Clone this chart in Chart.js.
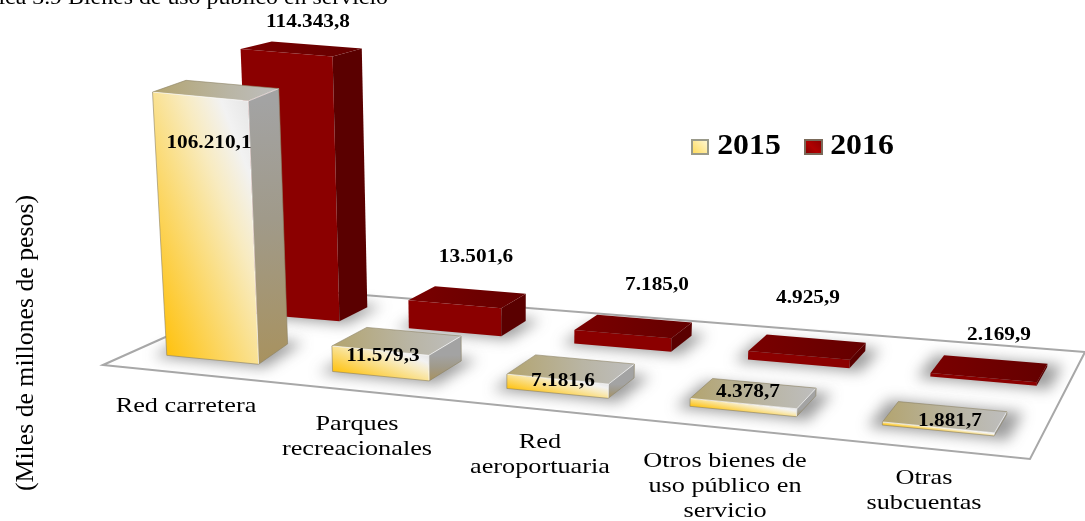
<!DOCTYPE html>
<html><head><meta charset="utf-8">
<style>html,body{margin:0;padding:0;background:#fff}canvas{display:block}</style>
<script src="https://cdn.jsdelivr.net/npm/chart.js@4"></script>
</head><body><canvas id="c" width="1085" height="521"></canvas>
<script>
const categories = [["Red carretera"],["Parques","recreacionales"],["Red","aeroportuaria"],["Otros bienes de","uso público en","servicio"],["Otras","subcuentas"]];
const seriesNames = ["2015","2016"];
const values2015 = [106210.1,11579.3,7181.6,4378.7,1881.7];
const values2016 = [114343.8,13501.6,7185.0,4925.9,2169.9];
const titleText = "Gráfica 3.9 Bienes de uso público en servicio";
const axisTitle = "(Miles de millones de pesos)";

// Camera: four corners of the floor and vanishing point of the verticals
const floor = [[103,365],[1030,459],[1085,352],[275,288]];
const vanish = [500,6500];
const depthBand = [[0.15,0.375],[0.665,0.855]];
const depthDrift = [[0,-0.01],[-0.011,-0.011]];
const SERIF = '"Liberation Serif","Times New Roman",serif';
// Text anchors
const valueAnchors = [[[209,143],[383,356],[563,381],[748,392],[950,421]],[[308,22],[476,257],[657,285],[808,298],[999,335]]];
const catAnchors = [[186,406],[357,424],[540,442],[725,461],[924,478]];

const [P00,P10,P11,P01] = floor;
const H = (()=>{
  const dx1=P10[0]-P11[0],dx2=P01[0]-P11[0],sx=P00[0]-P10[0]+P11[0]-P01[0];
  const dy1=P10[1]-P11[1],dy2=P01[1]-P11[1],sy=P00[1]-P10[1]+P11[1]-P01[1];
  const den=dx1*dy2-dx2*dy1, g=(sx*dy2-dx2*sy)/den, h=(dx1*sy-sx*dy1)/den;
  return {a:P10[0]-P00[0]+g*P10[0],b:P01[0]-P00[0]+h*P01[0],c:P00[0],
          d:P10[1]-P00[1]+g*P10[1],e:P01[1]-P00[1]+h*P01[1],f:P00[1],g,h};
})();
function project(u,v){const w=H.g*u+H.h*v+1;return [(H.a*u+H.b*v+H.c)/w,(H.d*u+H.e*v+H.f)/w];}
function uOf(i,s){return 0.106+0.2125*i-0.0031*i*i+s*(-0.005+0.004*i);}
function lift(p,h){return [p[0]+(p[0]-vanish[0])*h/(vanish[1]-p[1]),p[1]-h];}
function poly(ctx,pts){ctx.beginPath();pts.forEach((p,i)=>i?ctx.lineTo(p[0],p[1]):ctx.moveTo(p[0],p[1]));ctx.closePath();}
function fmt(v){const [a,b]=v.toFixed(1).split('.');return a.replace(/\B(?=(\d{3})+$)/g,'.')+','+b;}
function txt(ctx,s,cx,cy,font,sx,rot){ctx.save();ctx.translate(cx,cy);if(rot)ctx.rotate(rot);ctx.scale(sx,1);ctx.font=font;ctx.fillStyle='#000';ctx.textAlign='center';ctx.textBaseline='middle';ctx.fillText(s,0,0);ctx.restore();}
function grad(ctx,pts,stops){const g=ctx.createLinearGradient(pts[0],pts[1],pts[2],pts[3]);stops.forEach(s=>g.addColorStop(s[0],s[1]));return g;}

function drawBar(ctx,area,el,s,j,phase){
  const cw=area.width/categories.length;
  const iL=(el.x-el.width/2-area.left)/cw-.5, iR=(el.x+el.width/2-area.left)/cw-.5;
  const c=(iL+iR)/2;
  const v0=depthBand[s][0]+depthDrift[s][0]*c, v1=depthBand[s][1]+depthDrift[s][1]*c;
  const uL=uOf(iL,s),uR=uOf(iR,s);
  const skew=s===0?0.012*Math.max(0,1-c):0;
  if(phase==='shadow'){
    ctx.save();ctx.filter='blur(7px)';ctx.fillStyle='rgba(60,60,60,.5)';
    poly(ctx,[project(uL-.012,v0-.025),project(uR+.014,v0-.025),project(uR+.014-skew,v1+.03),project(uL-.012-skew,v1+.03)]);ctx.fill();ctx.restore();return;
  }
  const K=250, A=396, B=50, C=55;
  const hgt=v=>(el.base-el.y)*K/(A+B*c+C*v);
  const FL=project(uL,v0),FR=project(uR,v0),BR=project(uR-skew,v1),BL=project(uL-skew,v1);
  const tFL=lift(FL,hgt(v0)),tFR=lift(FR,hgt(v0)),tBR=lift(BR,hgt(v1)),tBL=lift(BL,hgt(v1));
  ctx.lineJoin='round';
  if(s===0){
    const D=[FR[0]-tFL[0],FR[1]-tFL[1]],len=Math.hypot(D[0],D[1]),n=[-D[1]/len,D[0]/len];
    const d=(tFR[0]-FL[0])*n[0]+(tFR[1]-FL[1])*n[1];
    poly(ctx,[FL,FR,tFR,tFL]);
    ctx.fillStyle=grad(ctx,[FL[0],FL[1],FL[0]+n[0]*d,FL[1]+n[1]*d],[[0,'#FFC20F'],[.45,'#FADF88'],[.65,'#F8EBC0'],[.85,'#F2F2F2'],[1,'#E6E6E6']]);ctx.fill();
    poly(ctx,[FR,BR,tBR,tFR]);
    ctx.fillStyle=grad(ctx,[FR[0],FR[1],tFR[0],tFR[1]],[[0,'#A8925F'],[.55,'#A09A8A'],[1,'#A3A3A3']]);ctx.fill();
    poly(ctx,[tFL,tFR,tBR,tBL]);
    ctx.fillStyle=grad(ctx,[tFL[0],tFL[1],tBR[0],tBR[1]],[[0,'#B3A46F'],[.6,'#B9B5A4'],[1,'#BEBEBE']]);ctx.fill();
    ctx.strokeStyle='rgba(255,255,255,.65)';ctx.lineWidth=1;
    ctx.beginPath();ctx.moveTo(tFL[0],tFL[1]);ctx.lineTo(tFR[0],tFR[1]);ctx.lineTo(tBR[0],tBR[1]);ctx.moveTo(tFR[0],tFR[1]);ctx.lineTo(FR[0],FR[1]);ctx.stroke();
    ctx.strokeStyle='rgba(140,130,100,.6)';
    poly(ctx,[FL,FR,BR,tBR,tBL,tFL]);ctx.stroke();
  }else{
    poly(ctx,[FL,FR,tFR,tFL]);ctx.fillStyle=el.options.backgroundColor;ctx.fill();
    poly(ctx,[FR,BR,tBR,tFR]);ctx.fillStyle='#5A0000';ctx.fill();
    poly(ctx,[tFL,tFR,tBR,tBL]);ctx.fillStyle=grad(ctx,[tFL[0],tFL[1],tBR[0],tBR[1]],[[0,'#7A0000'],[1,'#640000']]);ctx.fill();
  }
}

const scene={id:'scene',beforeDatasetsDraw(chart){
  const ctx=chart.ctx,area=chart.chartArea;
  ctx.save();
  poly(ctx,floor);ctx.fillStyle='#fff';ctx.fill();ctx.strokeStyle='#A8A8A8';ctx.lineWidth=2;ctx.stroke();
  [1,0].forEach(s=>{
    const meta=chart.getDatasetMeta(s);
    meta.data.forEach((el,j)=>drawBar(ctx,area,el,s,j,'shadow'));
    meta.data.forEach((el,j)=>drawBar(ctx,area,el,s,j,'bar'));
  });
  [0,1].forEach(s=>chart.data.datasets[s].data.forEach((v,j)=>{
    const a=valueAnchors[s][j];txt(ctx,fmt(v),a[0],a[1],'bold 19px '+SERIF,1.12);
  }));
  categories.forEach((lines,j)=>lines.forEach((l,k)=>txt(ctx,l,catAnchors[j][0],catAnchors[j][1]+k*25,'21px '+SERIF,1.25)));
  txt(ctx,axisTitle,26,343,'25px '+SERIF,1.03,-Math.PI/2);
  ctx.save();ctx.font='21px '+SERIF;ctx.textBaseline='alphabetic';ctx.textAlign='right';ctx.fillStyle='#000';ctx.translate(388,4);ctx.scale(1.136,1);ctx.fillText(titleText,0,0);ctx.restore();
  // legend
  [[691,749],[804,862]].forEach((lg,i)=>{
    ctx.fillStyle=i?'#7A6A5A':'#9A9A8A';ctx.fillRect(lg[0],139,i?19:18,16);
    ctx.fillStyle=grad(ctx,[lg[0],155,lg[0]+16,139],i?[[0,'#7A0000'],[.5,'#B00000'],[1,'#8B0000']]:[[0,'#FFD84D'],[1,'#FFF8D8']]);
    ctx.fillRect(lg[0]+2,141,(i?19:18)-4,12);
    txt(ctx,seriesNames[i],lg[1],146,'bold 30px '+SERIF,1.06);
  });
  ctx.restore();
  return false;
}};

new Chart(document.getElementById('c'),{
  type:'bar',
  data:{labels:categories,datasets:[
    {label:seriesNames[0],data:values2015,backgroundColor:'#FFD966'},
    {label:seriesNames[1],data:values2016,backgroundColor:'#8B0000'}]},
  options:{responsive:false,animation:false,
    datasets:{bar:{grouped:false,categoryPercentage:.56,barPercentage:1}},
    layout:{padding:0},
    plugins:{legend:{display:false},tooltip:{enabled:false},title:{display:false}},
    scales:{x:{display:false},y:{display:false,min:0,max:130000}}},
  plugins:[scene]
});
</script></body></html>
